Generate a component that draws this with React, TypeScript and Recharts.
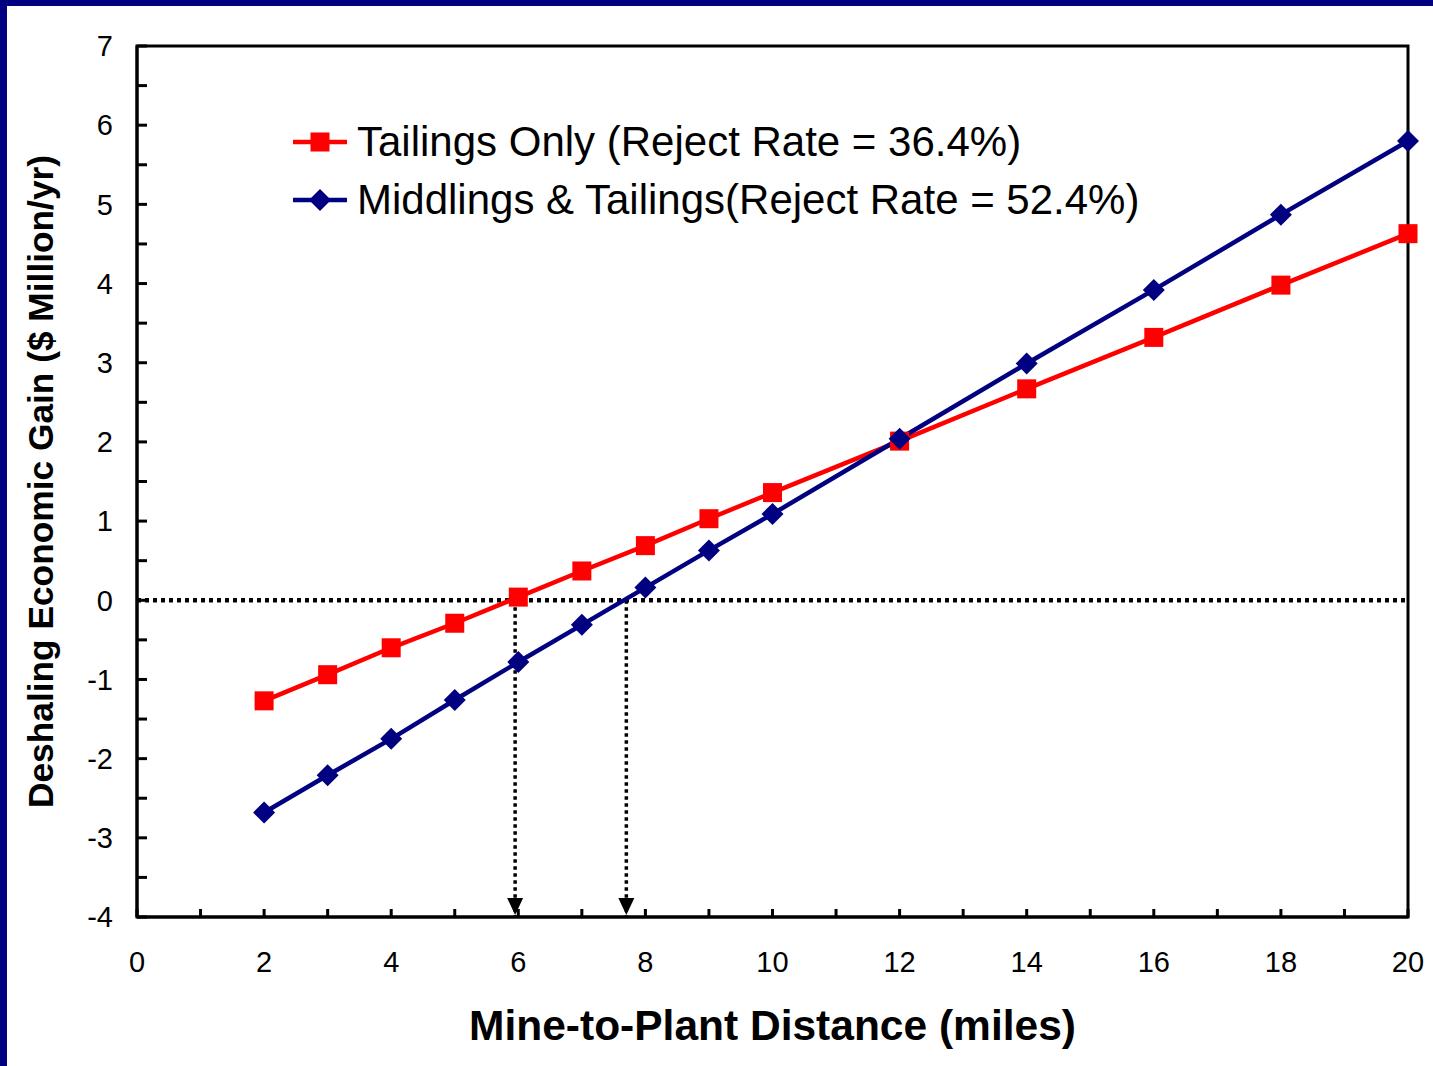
import React from 'react';
import {
  LineChart,
  Line,
  XAxis,
  YAxis,
  Legend,
  ReferenceLine,
  ReferenceDot,
  ReferenceArea,
} from 'recharts';

const distances = [2, 3, 4, 5, 6, 7, 8, 9, 10, 12, 14, 16, 18, 20];
const tailingsOnly = [-1.27, -0.94, -0.6, -0.29, 0.04, 0.37, 0.69, 1.03, 1.36, 2.01, 2.67, 3.32, 3.98, 4.63];
const middlingsTailings = [-2.68, -2.21, -1.75, -1.26, -0.78, -0.31, 0.16, 0.63, 1.09, 2.04, 2.99, 3.92, 4.87, 5.8];
const breakEven = [5.95, 7.7];
const xTicks = Array.from({ length: 21 }, (_, i) => i);
const yTicks = Array.from({ length: 23 }, (_, i) => -4 + i * 0.5);
const seriesOrder = ['tailings', 'middlings'];

const data = distances.map((d, i) => ({
  distance: d,
  tailings: tailingsOnly[i],
  middlings: middlingsTailings[i],
}));

const FONT = '"Liberation Sans", Arial, sans-serif';
const RED = '#ff0000';
const NAVY = '#000080';

const Square = ({ cx, cy }: any) => (
  <rect x={cx - 9.5} y={cy - 9.5} width={19} height={19} fill={RED} />
);

const Diamond = ({ cx, cy }: any) => (
  <polygon points={`${cx},${cy - 11} ${cx + 11},${cy} ${cx},${cy + 11} ${cx - 11},${cy}`} fill={NAVY} />
);

const ArrowHead = ({ cx, cy }: any) => (
  <polygon points={`${cx - 8},${cy - 19} ${cx + 8},${cy - 19} ${cx},${cy - 2}`} fill="#000" />
);

const LegendBox = ({ payload }: any) => {
  const items = [...(payload || [])].sort(
    (a: any, b: any) => seriesOrder.indexOf(a.dataKey) - seriesOrder.indexOf(b.dataKey)
  );
  return (
    <div style={{ fontFamily: FONT, fontSize: 42, color: '#000' }}>
      {items.map((p: any) => (
        <div key={p.dataKey} style={{ display: 'flex', alignItems: 'center', height: 58 }}>
          <svg width={64} height={30}>
            <line x1={0} y1={15} x2={54} y2={15} stroke={p.color} strokeWidth={4.5} />
            {p.dataKey === 'tailings' ? <Square cx={27} cy={15} /> : <Diamond cx={27} cy={15} />}
          </svg>
          <span style={{ whiteSpace: 'pre' }}>{p.value}</span>
        </div>
      ))}
    </div>
  );
};

export default function App() {
  return (
    <div
      style={{
        position: 'absolute',
        left: 0,
        top: 0,
        width: 1433,
        height: 1066,
        background: '#fff',
        boxShadow: `inset 7px 6px 0 ${NAVY}`,
      }}
    >
      <LineChart width={1433} height={1066} data={data} margin={{ top: 46, right: 25, bottom: 0, left: 0 }}>
        <XAxis
          dataKey="distance"
          type="number"
          domain={[0, 20]}
          ticks={xTicks}
          interval={0}
          tickFormatter={(v) => (v % 2 === 0 ? String(v) : '')}
          tickSize={-8}
          tickMargin={42}
          height={149}
          axisLine={{ stroke: '#000', strokeWidth: 3 }}
          tickLine={{ stroke: '#000', strokeWidth: 3 }}
          tick={{ fill: '#000', fontSize: 29, fontFamily: FONT }}
          label={{
            value: 'Mine-to-Plant Distance (miles)',
            position: 'insideBottom',
            offset: 26,
            style: { fill: '#000', fontSize: 42.5, fontWeight: 'bold', fontFamily: FONT },
          }}
        />
        <YAxis
          type="number"
          domain={[-4, 7]}
          ticks={yTicks}
          interval={0}
          tickFormatter={(v) => (Number.isInteger(v) ? String(v) : '')}
          tickSize={-10}
          tickMargin={34}
          width={137}
          axisLine={{ stroke: '#000', strokeWidth: 3 }}
          tickLine={{ stroke: '#000', strokeWidth: 3 }}
          tick={{ fill: '#000', fontSize: 29, fontFamily: FONT }}
          label={{
            value: 'Deshaling Economic Gain ($ Million/yr)',
            angle: -90,
            position: 'insideLeft',
            dx: 35,
            style: { textAnchor: 'middle', fill: '#000', fontSize: 35.3, fontWeight: 'bold', fontFamily: FONT },
          }}
        />
        <ReferenceArea x1={0} x2={20} y1={-4} y2={7} stroke="#000" strokeWidth={3} fill="none" fillOpacity={0} />
        <ReferenceLine y={0} stroke="#000" strokeWidth={4.5} strokeDasharray="4 4" />
        {breakEven.map((x) => (
          <ReferenceLine
            key={`v${x}`}
            segment={[{ x, y: 0 }, { x, y: -4 }]}
            stroke="#000"
            strokeWidth={3.5}
            strokeDasharray="3.5 3.5"
          />
        ))}
        {breakEven.map((x) => (
          <ReferenceDot key={`a${x}`} x={x} y={-4} r={8} shape={<ArrowHead />} />
        ))}
        <Legend
          layout="horizontal"
          align="center"
          verticalAlign="middle"
          content={<LegendBox />}
          wrapperStyle={{ left: 293, top: 113, width: 900 }}
        />
        <Line
          dataKey="tailings"
          name="Tailings Only (Reject Rate = 36.4%)"
          stroke={RED}
          strokeWidth={4.5}
          dot={<Square />}
          activeDot={false}
          isAnimationActive={false}
        />
        <Line
          dataKey="middlings"
          name="Middlings & Tailings(Reject Rate = 52.4%)"
          stroke={NAVY}
          strokeWidth={4.5}
          dot={<Diamond />}
          activeDot={false}
          isAnimationActive={false}
        />
      </LineChart>
    </div>
  );
}
